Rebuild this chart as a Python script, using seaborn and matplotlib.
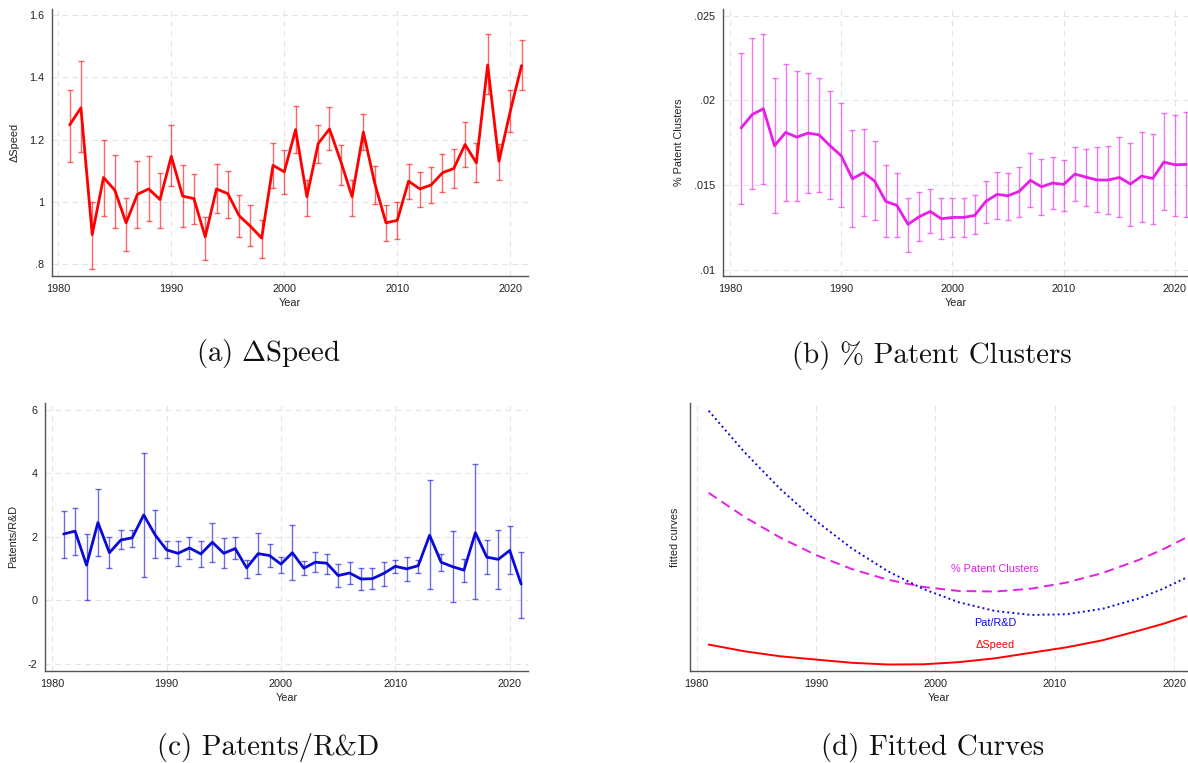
import numpy as np
import pandas as pd
import matplotlib
matplotlib.use("Agg")
import matplotlib.pyplot as plt
import seaborn as sns

# ---------------- data ----------------
years = list(range(1981, 2022))

speed = [1.247, 1.302, 0.894, 1.078, 1.037, 0.932, 1.024, 1.041, 1.007, 1.146,
         1.018, 1.010, 0.887, 1.041, 1.026, 0.955, 0.921, 0.883, 1.117, 1.096,
         1.232, 1.016, 1.187, 1.234, 1.130, 1.016, 1.224, 1.060, 0.932, 0.940,
         1.066, 1.041, 1.054, 1.093, 1.107, 1.184, 1.125, 1.440, 1.130, 1.291, 1.438]
speed_hi = [1.360, 1.454, 0.998, 1.198, 1.150, 1.012, 1.131, 1.147, 1.091, 1.247,
            1.118, 1.088, 0.951, 1.120, 1.099, 1.022, 0.989, 0.942, 1.188, 1.166,
            1.307, 1.069, 1.246, 1.305, 1.183, 1.070, 1.283, 1.116, 0.988, 0.999,
            1.121, 1.097, 1.111, 1.154, 1.170, 1.256, 1.189, 1.540, 1.187, 1.360, 1.521]
speed_lo = [1.129, 1.160, 0.784, 0.955, 0.916, 0.842, 0.916, 0.939, 0.916, 1.049,
            0.919, 0.929, 0.814, 0.964, 0.948, 0.887, 0.856, 0.819, 1.045, 1.025,
            1.156, 0.953, 1.125, 1.167, 1.053, 0.955, 1.166, 0.993, 0.875, 0.881,
            1.009, 0.983, 0.995, 1.032, 1.045, 1.112, 1.062, 1.345, 1.069, 1.225, 1.361]

clusters = [0.01837, 0.01917, 0.01951, 0.01732, 0.01811, 0.01783, 0.01807, 0.01797, 0.01732, 0.01673,
            0.01537, 0.01573, 0.01524, 0.01404, 0.01380, 0.01268, 0.01313, 0.01344, 0.01301, 0.01309,
            0.01309, 0.01321, 0.01404, 0.01445, 0.01437, 0.01463, 0.01528, 0.01490, 0.01512, 0.01504,
            0.01565, 0.01547, 0.01530, 0.01530, 0.01545, 0.01506, 0.01553, 0.01539, 0.01636, 0.01620, 0.01622]
clusters_hi = [0.02278, 0.02366, 0.02394, 0.02134, 0.02215, 0.02171, 0.02161, 0.02134, 0.02055, 0.01982,
               0.01825, 0.01829, 0.01758, 0.01616, 0.01569, 0.01425, 0.01461, 0.01474, 0.01421, 0.01425,
               0.01425, 0.01439, 0.01524, 0.01577, 0.01573, 0.01604, 0.01691, 0.01654, 0.01663, 0.01650,
               0.01722, 0.01711, 0.01722, 0.01730, 0.01785, 0.01748, 0.01815, 0.01803, 0.01923, 0.01915, 0.01929]
clusters_lo = [0.01388, 0.01474, 0.01508, 0.01333, 0.01407, 0.01404, 0.01453, 0.01461, 0.01415, 0.01368,
               0.01250, 0.01317, 0.01291, 0.01191, 0.01191, 0.01102, 0.01171, 0.01215, 0.01183, 0.01195,
               0.01195, 0.01209, 0.01278, 0.01301, 0.01295, 0.01313, 0.01372, 0.01323, 0.01360, 0.01348,
               0.01407, 0.01378, 0.01341, 0.01327, 0.01309, 0.01256, 0.01281, 0.01270, 0.01350, 0.01319, 0.01313]

pat_rd = [2.09, 2.18, 1.11, 2.45, 1.50, 1.90, 1.97, 2.69, 2.06, 1.59,
          1.48, 1.65, 1.46, 1.83, 1.48, 1.63, 1.02, 1.47, 1.41, 1.14,
          1.50, 1.01, 1.20, 1.17, 0.78, 0.86, 0.67, 0.68, 0.85, 1.07,
          0.99, 1.09, 2.05, 1.20, 1.06, 0.95, 2.13, 1.36, 1.29, 1.57, 0.51]
pat_rd_hi = [2.82, 2.91, 2.09, 3.50, 2.00, 2.20, 2.20, 4.63, 2.85, 1.88,
             1.88, 1.99, 1.88, 2.45, 1.95, 1.99, 1.28, 2.11, 1.79, 1.38,
             2.36, 1.23, 1.53, 1.47, 1.15, 1.22, 1.02, 1.02, 1.22, 1.26,
             1.36, 1.26, 3.79, 1.47, 2.18, 1.31, 4.30, 1.89, 2.22, 2.34, 1.53]
pat_rd_lo = [1.33, 1.44, 0.02, 1.41, 1.01, 1.62, 1.69, 0.74, 1.33, 1.32,
             1.08, 1.29, 1.04, 1.20, 1.01, 1.29, 0.71, 0.82, 1.04, 0.85,
             0.63, 0.79, 0.88, 0.84, 0.41, 0.50, 0.32, 0.36, 0.46, 0.87,
             0.62, 0.87, 0.36, 0.91, -0.04, 0.58, 0.03, 0.84, 0.36, 0.82, -0.57]

fit_years = [1981, 1984, 1987, 1990, 1993, 1996, 1999, 2002, 2005, 2008, 2011, 2014, 2017, 2019, 2021]
fit_clusters = [1.780, 1.539, 1.332, 1.158, 1.018, 0.912, 0.839, 0.799, 0.794, 0.822, 0.884, 0.979, 1.108, 1.212, 1.332]
fit_patrd = [2.600, 2.186, 1.818, 1.498, 1.224, 0.997, 0.818, 0.685, 0.599, 0.560, 0.567, 0.622, 0.724, 0.818, 0.932]
fit_speed = [0.264, 0.197, 0.147, 0.114, 0.082, 0.065, 0.067, 0.089, 0.127, 0.182, 0.237, 0.307, 0.402, 0.469, 0.547]

xticks = [1980, 1990, 2000, 2010, 2020]
captions = [r"$\mathrm{(a)\ \Delta Speed}$",
            "(b) % Patent Clusters",
            "(c) Patents/R&D",
            "(d) Fitted Curves"]

# ---------------- style ----------------
sns.set_theme(style="white")
plt.rcParams["font.family"] = ["Liberation Sans", "DejaVu Sans"]
plt.rcParams["mathtext.fontset"] = "cm"

RED = "#ff0000"
MAG = "#e61ee6"
BLUE = "#0a0ad8"
SPINE = "#555555"
TXT = "#222222"
FS = 7.8

W, H = 1188, 763
fig = plt.figure(figsize=(W / 100, H / 100), dpi=100)


def make_ax(left, top, right, bottom):
    return fig.add_axes([left / W, 1 - bottom / H, (right - left) / W, (bottom - top) / H])


def style(ax, xlim, ylim, yticks, ylabels, ylabel):
    ax.set_xlim(*xlim)
    ax.set_ylim(*ylim)
    ax.set_xticks(xticks)
    ax.set_xticklabels([str(t) for t in xticks])
    ax.set_yticks(yticks)
    ax.set_yticklabels(ylabels)
    for s in ["top", "right"]:
        ax.spines[s].set_visible(False)
    for s in ["left", "bottom"]:
        ax.spines[s].set_color(SPINE)
        ax.spines[s].set_linewidth(1.0)
    ax.tick_params(axis="both", direction="out", length=3.5, width=0.9, color=SPINE,
                   labelsize=FS, labelcolor=TXT, pad=2)
    ax.grid(True, linestyle=(0, (5, 4)), color="#e4e4e4", linewidth=0.8)
    ax.set_axisbelow(True)
    ax.set_xlabel("Year", fontsize=FS, color=TXT, labelpad=3)
    ax.set_ylabel(ylabel, fontsize=FS, color=TXT, labelpad=7)


def panel(ax, y, lo, hi, color):
    df = pd.DataFrame({"Year": years, "v": y})
    yerr = [np.array(y) - np.array(lo), np.array(hi) - np.array(y)]
    ax.errorbar(years, y, yerr=yerr, fmt="none", ecolor=color, alpha=0.6,
                elinewidth=1.0, capsize=2.2, capthick=1.0, zorder=2)
    sns.lineplot(data=df, x="Year", y="v", ax=ax, color=color, linewidth=2.0, zorder=3)


# (a)
axa = make_ax(52, 9, 528, 276)
panel(axa, speed, speed_lo, speed_hi, RED)
style(axa, (1979.44, 2021.57), (0.761, 1.62), [0.8, 1.0, 1.2, 1.4, 1.6],
      [".8", "1", "1.2", "1.4", "1.6"], "ΔSpeed")

# (b)
axb = make_ax(723, 9, 1188, 276)
panel(axb, clusters, clusters_lo, clusters_hi, MAG)
style(axb, (1979.37, 2021.17), (0.00963, 0.0254), [0.01, 0.015, 0.02, 0.025],
      [".01", ".015", ".02", ".025"], "% Patent Clusters")

# (c)
axc = make_ax(45, 403, 528, 671)
panel(axc, pat_rd, pat_rd_lo, pat_rd_hi, BLUE)
style(axc, (1979.37, 2021.6), (-2.23, 6.22), [-2, 0, 2, 4, 6],
      ["-2", "0", "2", "4", "6"], "Patents/R&D")

# (d)
axd = make_ax(690, 403, 1188, 671)
dfd = pd.DataFrame({"Year": fit_years, "c": fit_clusters, "p": fit_patrd, "s": fit_speed})
sns.lineplot(data=dfd, x="Year", y="c", ax=axd, color=MAG, linewidth=1.4, linestyle=(0, (5, 3)))
sns.lineplot(data=dfd, x="Year", y="p", ax=axd, color=BLUE, linewidth=1.4, linestyle=(0, (1, 1.6)))
sns.lineplot(data=dfd, x="Year", y="s", ax=axd, color=RED, linewidth=1.4)
style(axd, (1979.44, 2021.15), (0, 2.677), [], [], "fitted curves")
axd.text(2005, 1.014, "% Patent Clusters", color=MAG, fontsize=FS, ha="center", va="center")
axd.text(2005, 0.484, "Pat/R&D", color=BLUE, fontsize=FS, ha="center", va="center")
axd.text(2005, 0.257, "ΔSpeed", color=RED, fontsize=FS, ha="center", va="center")

# captions
cap_pos = [(268, 354), (932, 355), (268, 748), (933, 748)]
for i, ((cx, cy), t) in enumerate(zip(cap_pos, captions)):
    kw = {} if i == 0 else {"family": "cmr10"}
    fig.text(cx / W, 1 - cy / H, t, fontsize=20.8, ha="center", va="center",
             color="#111111", **kw)

fig.savefig("out.png", dpi=100)
